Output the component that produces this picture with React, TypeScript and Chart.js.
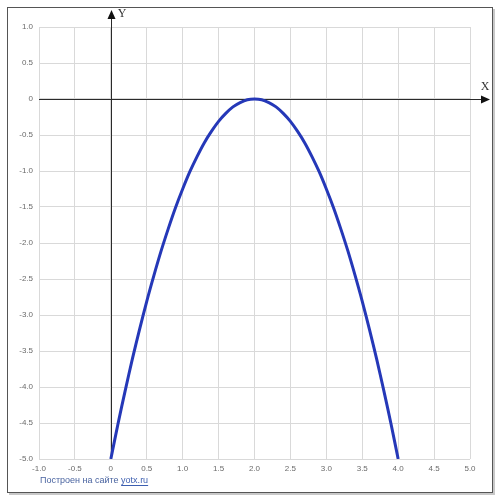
import React, { useEffect, useRef } from "react";
import { Chart, registerables } from "chart.js";

Chart.register(...registerables);

const xValues = [
  0, 0.1, 0.2, 0.3, 0.4, 0.5, 0.6, 0.7, 0.8, 0.9, 1.0, 1.1, 1.2, 1.3, 1.4, 1.5, 1.6, 1.7, 1.8, 1.9, 2.0,
  2.1, 2.2, 2.3, 2.4, 2.5, 2.6, 2.7, 2.8, 2.9, 3.0, 3.1, 3.2, 3.3, 3.4, 3.5, 3.6, 3.7, 3.8, 3.9, 4.0,
];
const yValues = [
  -5.0, -4.51, -4.05, -3.61, -3.2, -2.81, -2.45, -2.11, -1.8, -1.51, -1.25, -1.01, -0.8, -0.61, -0.45,
  -0.31, -0.2, -0.11, -0.05, -0.01, 0.0, -0.01, -0.05, -0.11, -0.2, -0.31, -0.45, -0.61, -0.8, -1.01,
  -1.25, -1.51, -1.8, -2.11, -2.45, -2.81, -3.2, -3.61, -4.05, -4.51, -5.0,
];
const xRange = [-1, 5];
const yRange = [-5, 1];
const tickStep = 0.5;
const axisNames = ["X", "Y"];
const footerPrefix = "Построен на сайте ";
const footerLink = "yotx.ru";

const fmt = (v: number) => (Math.abs(v) < 1e-9 ? "0" : v.toFixed(1));

const decorPlugin = {
  id: "decor",
  beforeDraw(chart: any) {
    const ctx = chart.ctx;
    ctx.save();
    ctx.fillStyle = "#ffffff";
    ctx.fillRect(0, 0, chart.width, chart.height);
    // shadow
    ctx.fillStyle = "#c8c8c8";
    ctx.fillRect(9, 493, 486, 2);
    ctx.fillRect(493, 9, 2, 486);
    ctx.strokeStyle = "#555555";
    ctx.lineWidth = 1;
    ctx.strokeRect(7.5, 7.5, 485, 485);
    ctx.restore();
  },
  beforeDatasetsDraw(chart: any) {
    const ctx = chart.ctx;
    const xs = chart.scales.x;
    const ys = chart.scales.y;
    const area = chart.chartArea;
    const x0 = Math.round(xs.getPixelForValue(0)) + 0.5;
    const y0 = Math.round(ys.getPixelForValue(0)) + 0.5;
    ctx.save();
    ctx.strokeStyle = "#2a2a2a";
    ctx.fillStyle = "#111111";
    ctx.lineWidth = 1;
    // X axis
    ctx.beginPath();
    ctx.moveTo(area.left, y0);
    ctx.lineTo(484, y0);
    ctx.stroke();
    ctx.beginPath();
    ctx.moveTo(490, y0);
    ctx.lineTo(481, y0 - 4);
    ctx.lineTo(481, y0 + 4);
    ctx.closePath();
    ctx.fill();
    // Y axis
    ctx.beginPath();
    ctx.moveTo(x0, area.bottom);
    ctx.lineTo(x0, 16);
    ctx.stroke();
    ctx.beginPath();
    ctx.moveTo(x0, 10);
    ctx.lineTo(x0 - 4, 19);
    ctx.lineTo(x0 + 4, 19);
    ctx.closePath();
    ctx.fill();
    // names
    ctx.fillStyle = "#333333";
    ctx.font = '12px "Liberation Serif"';
    ctx.textAlign = "center";
    ctx.textBaseline = "middle";
    ctx.fillText(axisNames[0], 485, 87);
    ctx.fillText(axisNames[1], 122, 14);
    // footer
    ctx.font = '9px "Liberation Sans"';
    ctx.textAlign = "left";
    ctx.fillStyle = "#4a64a0";
    const fx = 40;
    const fy = 481;
    ctx.fillText(footerPrefix, fx, fy);
    const w1 = ctx.measureText(footerPrefix).width;
    ctx.fillStyle = "#3d5fb0";
    ctx.fillText(footerLink, fx + w1, fy);
    const w2 = ctx.measureText(footerLink).width;
    ctx.strokeStyle = "#3d5fb0";
    ctx.beginPath();
    ctx.moveTo(fx + w1, fy + 4.5);
    ctx.lineTo(fx + w1 + w2, fy + 4.5);
    ctx.stroke();
    ctx.restore();
  },
};

export default function App() {
  const ref = useRef<HTMLCanvasElement | null>(null);
  useEffect(() => {
    if (!ref.current) return;
    const data = xValues.map((x, i) => ({ x, y: yValues[i] }));
    const chart = new Chart(ref.current, {
      type: "scatter",
      data: {
        datasets: [
          {
            data,
            showLine: true,
            borderColor: "#2538b8",
            borderWidth: 3,
            pointRadius: 0,
            tension: 0.3,
            fill: false,
          },
        ],
      },
      options: {
        animation: false,
        responsive: false,
        events: [],
        layout: { padding: { top: 27, right: 30, left: 0, bottom: 23 } },
        plugins: { legend: { display: false }, tooltip: { enabled: false } },
        scales: {
          x: {
            type: "linear",
            min: xRange[0],
            max: xRange[1],
            afterFit: (s: any) => {
              s.height = 20;
            },
            border: { display: false },
            grid: { color: "#d9d9d9", drawTicks: false, tickLength: 0 },
            ticks: {
              stepSize: tickStep,
              padding: 5,
              color: "#6a6a6a",
              font: { family: "Liberation Sans", size: 8 },
              maxRotation: 0,
              autoSkip: false,
              callback: (v: any) => fmt(Number(v)),
            },
          },
          y: {
            type: "linear",
            min: yRange[0],
            max: yRange[1],
            afterFit: (s: any) => {
              s.width = 39;
            },
            border: { display: false },
            grid: { color: "#d9d9d9", drawTicks: false, tickLength: 0 },
            ticks: {
              stepSize: tickStep,
              padding: 6,
              color: "#6a6a6a",
              font: { family: "Liberation Sans", size: 8 },
              autoSkip: false,
              callback: (v: any) => fmt(Number(v)),
            },
          },
        },
      },
      plugins: [decorPlugin],
    });
    return () => chart.destroy();
  }, []);
  return (
    <div style={{ position: "absolute", left: 0, top: 0, width: 500, height: 502 }}>
      <canvas ref={ref} width={500} height={502} style={{ display: "block" }} />
    </div>
  );
}
